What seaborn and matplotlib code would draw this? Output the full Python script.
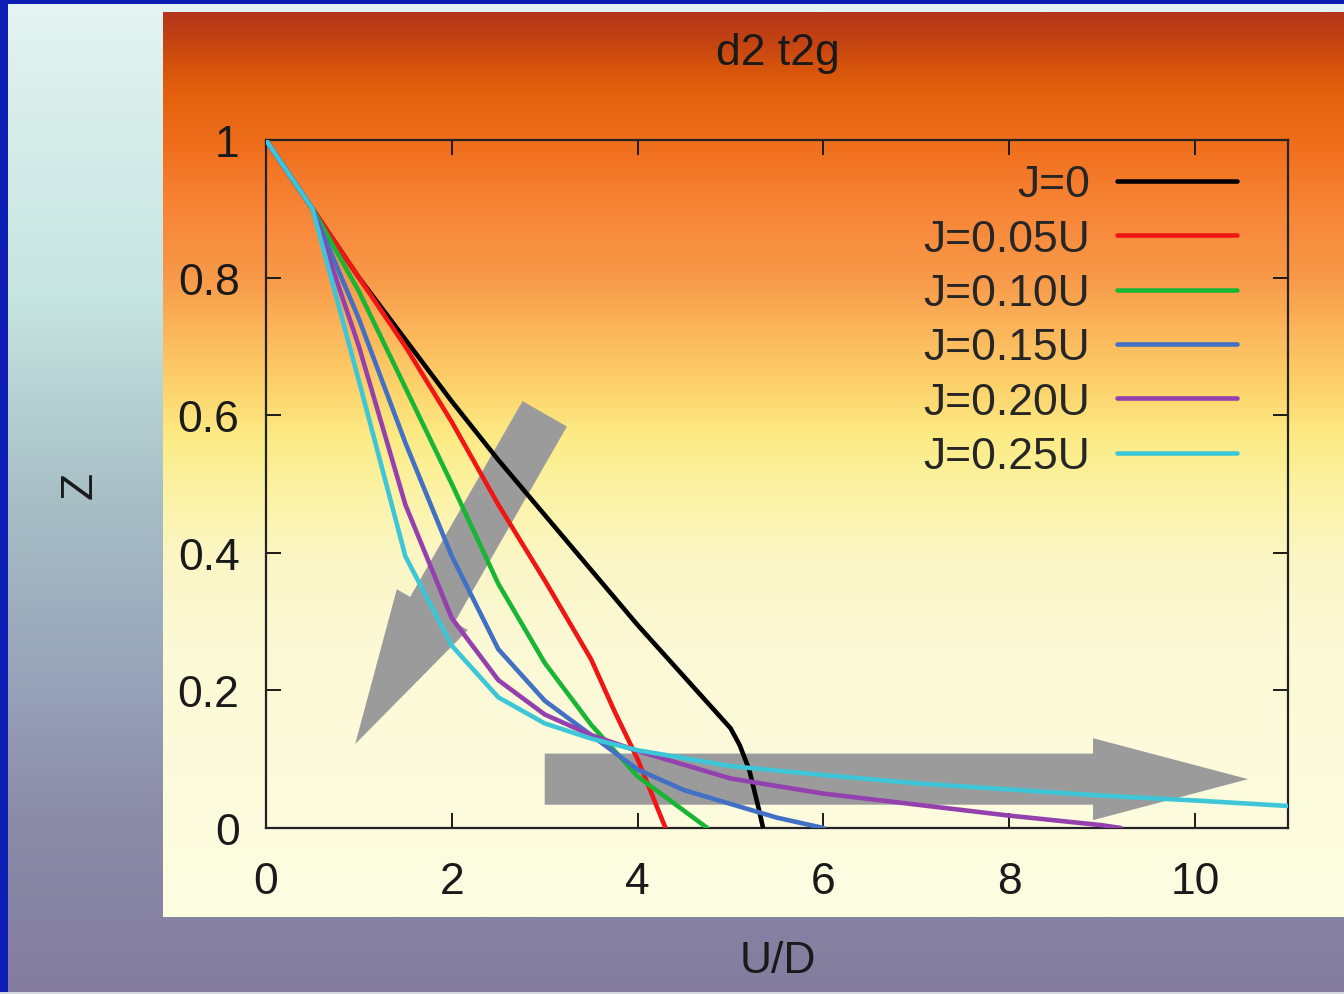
import numpy as np
import pandas as pd
import matplotlib
matplotlib.use('Agg')
import matplotlib.pyplot as plt
from matplotlib.colors import LinearSegmentedColormap
from matplotlib.patches import Rectangle
import seaborn as sns

# series
labels = ['J=0', 'J=0.05U', 'J=0.10U', 'J=0.15U', 'J=0.20U', 'J=0.25U']
colors = ['#000000', '#f01616', '#18b634', '#4270c4', '#9440ae', '#3cc6d8']

u_j000 = [0, 0.5, 1, 1.5, 2, 2.5, 3, 3.5, 4, 4.5, 5.0, 5.1, 5.2, 5.3, 5.35]
z_j000 = [1, 0.9, 0.8, 0.71, 0.62, 0.535, 0.455, 0.375, 0.295, 0.22, 0.145, 0.12, 0.085, 0.03, 0.0]

u_j005 = [0, 0.5, 1, 1.5, 2, 2.5, 3, 3.5, 3.75, 4, 4.3]
z_j005 = [1, 0.9, 0.8, 0.7, 0.59, 0.47, 0.36, 0.245, 0.17, 0.1, 0.0]

u_j010 = [0, 0.5, 1, 1.5, 2, 2.5, 3, 3.5, 4, 4.5, 4.75]
z_j010 = [1, 0.9, 0.78, 0.64, 0.5, 0.355, 0.24, 0.15, 0.075, 0.025, 0.0]

u_j015 = [0, 0.5, 1, 1.5, 2, 2.5, 3, 3.5, 4, 4.5, 5, 5.5, 6]
z_j015 = [1, 0.9, 0.74, 0.56, 0.395, 0.26, 0.185, 0.135, 0.085, 0.055, 0.035, 0.015, 0.0]

u_j020 = [0, 0.5, 1, 1.5, 2, 2.5, 3, 3.5, 4, 5, 6, 7, 8, 9, 9.2]
z_j020 = [1, 0.9, 0.7, 0.47, 0.305, 0.215, 0.165, 0.135, 0.112, 0.072, 0.05, 0.034, 0.018, 0.004, 0.0]

u_j025 = [0, 0.5, 1, 1.5, 2, 2.5, 3, 3.5, 4, 5, 6, 7, 8, 9, 10, 11]
z_j025 = [1, 0.9, 0.65, 0.395, 0.265, 0.19, 0.152, 0.13, 0.113, 0.09, 0.077, 0.065, 0.056, 0.047, 0.04, 0.032]

x_ticks = [0, 2, 4, 6, 8, 10]
y_ticks = [0, 0.2, 0.4, 0.6, 0.8, 1]
y_tick_labels = ['0', '0.2', '0.4', '0.6', '0.8', '1']

FS = 32


def main():
    sns.set_style('ticks')
    plt.rcParams['font.family'] = ['Liberation Sans', 'DejaVu Sans']

    frames = []
    for lab, u, z in zip(labels,
                         [u_j000, u_j005, u_j010, u_j015, u_j020, u_j025],
                         [z_j000, z_j005, z_j010, z_j015, z_j020, z_j025]):
        frames.append(pd.DataFrame({'U/D': u, 'Z': z, 'J': lab}))
    df = pd.concat(frames, ignore_index=True)

    W, H = 1344, 995
    fig = plt.figure(figsize=(W / 100, H / 100), dpi=100)

    # slide background
    bg = fig.add_axes([0, 0, 1, 1], zorder=-3)
    bg.axis('off')
    outer = LinearSegmentedColormap.from_list('outer', [
        (0.0, '#e4f4f2'), (0.3, '#c6e4e0'), (0.5, '#a8bfc6'),
        (0.68, '#98a4b9'), (0.82, '#8c8ca8'), (1.0, '#837c9e')])
    bg.imshow(np.linspace(0, 1, 256).reshape(-1, 1), aspect='auto', cmap=outer,
              extent=[0, 1, 0, 1])
    bg.set_xlim(0, 1)
    bg.set_ylim(0, 1)
    bg.add_patch(Rectangle((0, 0), 8 / W, 1, color='#0b1db3', lw=0))
    bg.add_patch(Rectangle((0, 1 - 5 / H), 1, 5 / H, color='#0b1db3', lw=0))
    bg.add_patch(Rectangle((0, 0), 1, 2 / H, color='#d8d8e0', lw=0))

    # orange panel
    pl, pt, pb = 163, 13, 918
    panel = fig.add_axes([pl / W, 1 - pb / H, 1 - pl / W, (pb - pt) / H], zorder=-2)
    panel.axis('off')
    inner = LinearSegmentedColormap.from_list('inner', [
        (0.0, '#b3361a'), (0.03, '#c44312'), (0.063, '#d8560b'), (0.096, '#e5630f'),
        (0.15, '#f0701e'), (0.207, '#f78234'), (0.295, '#f89a4a'), (0.35, '#fbb55a'),
        (0.416, '#fdd36c'), (0.472, '#fcec86'), (0.538, '#fbf3a8'), (0.605, '#fbf6c6'),
        (0.704, '#fcf9d6'), (1.0, '#fdfde2')])
    panel.imshow(np.linspace(0, 1, 512).reshape(-1, 1), aspect='auto', cmap=inner,
                 extent=[0, 1, 0, 1])

    # main axes
    x0, x1, y0, y1 = 266, 1288, 141, 829
    ax = fig.add_axes([x0 / W, 1 - y1 / H, (x1 - x0) / W, (y1 - y0) / H], zorder=1)
    ax.patch.set_alpha(0)

    arrow_kw = dict(arrowstyle='simple,head_length=5.58,head_width=2.95,tail_width=1.84',
                    fc='#9b9b9b', ec='none', shrinkA=0, shrinkB=0, mutation_scale=20)
    ax.annotate('', xy=(0.96, 0.122), xytext=(3.0, 0.602), arrowprops=arrow_kw, zorder=1)
    ax.annotate('', xy=(10.57, 0.071), xytext=(3.0, 0.071), arrowprops=arrow_kw, zorder=1)

    sns.lineplot(data=df, x='U/D', y='Z', hue='J', hue_order=labels,
                 palette=dict(zip(labels, colors)), estimator=None, sort=False,
                 linewidth=3.3, ax=ax, zorder=3)

    ax.set_xlim(0, 11)
    ax.set_ylim(0, 1)
    ax.set_xticks(x_ticks)
    ax.set_yticks(y_ticks)
    ax.set_yticklabels(y_tick_labels)
    ax.set_xlabel('')
    ax.set_ylabel('')
    ax.tick_params(direction='in', top=True, right=True, length=11, width=1.4,
                   labelsize=FS, colors='#1a1a1a')
    ax.tick_params(axis='x', pad=24)
    ax.tick_params(axis='y', pad=19)
    for s in ax.spines.values():
        s.set_linewidth(1.6)
        s.set_color('#222222')
        s.set_visible(True)

    old = ax.get_legend()
    handles = old.legend_handles
    texts = [t.get_text() for t in old.get_texts()]
    old.remove()
    for h in handles:
        h.set_linewidth(3.3)
    ax.legend(handles, texts, loc='upper right', bbox_to_anchor=(0.950, 0.9645),
              frameon=False, markerfirst=False, fontsize=FS, handlelength=2.7,
              handletextpad=0.61, labelspacing=0.30, borderpad=0, borderaxespad=0)

    fig.text(778 / W, 1 - 54 / H, 'd2 t2g', ha='center', va='center', fontsize=FS,
             color='#1a1a1a')
    fig.text(778 / W, 1 - 962 / H, 'U/D', ha='center', va='center', fontsize=FS,
             color='#1a1a1a')
    fig.text(80 / W, 1 - 485 / H, 'Z', ha='center', va='center', fontsize=FS,
             rotation=90, color='#1a1a1a')

    fig.savefig('out.png', dpi=100)


if __name__ == '__main__':
    main()
